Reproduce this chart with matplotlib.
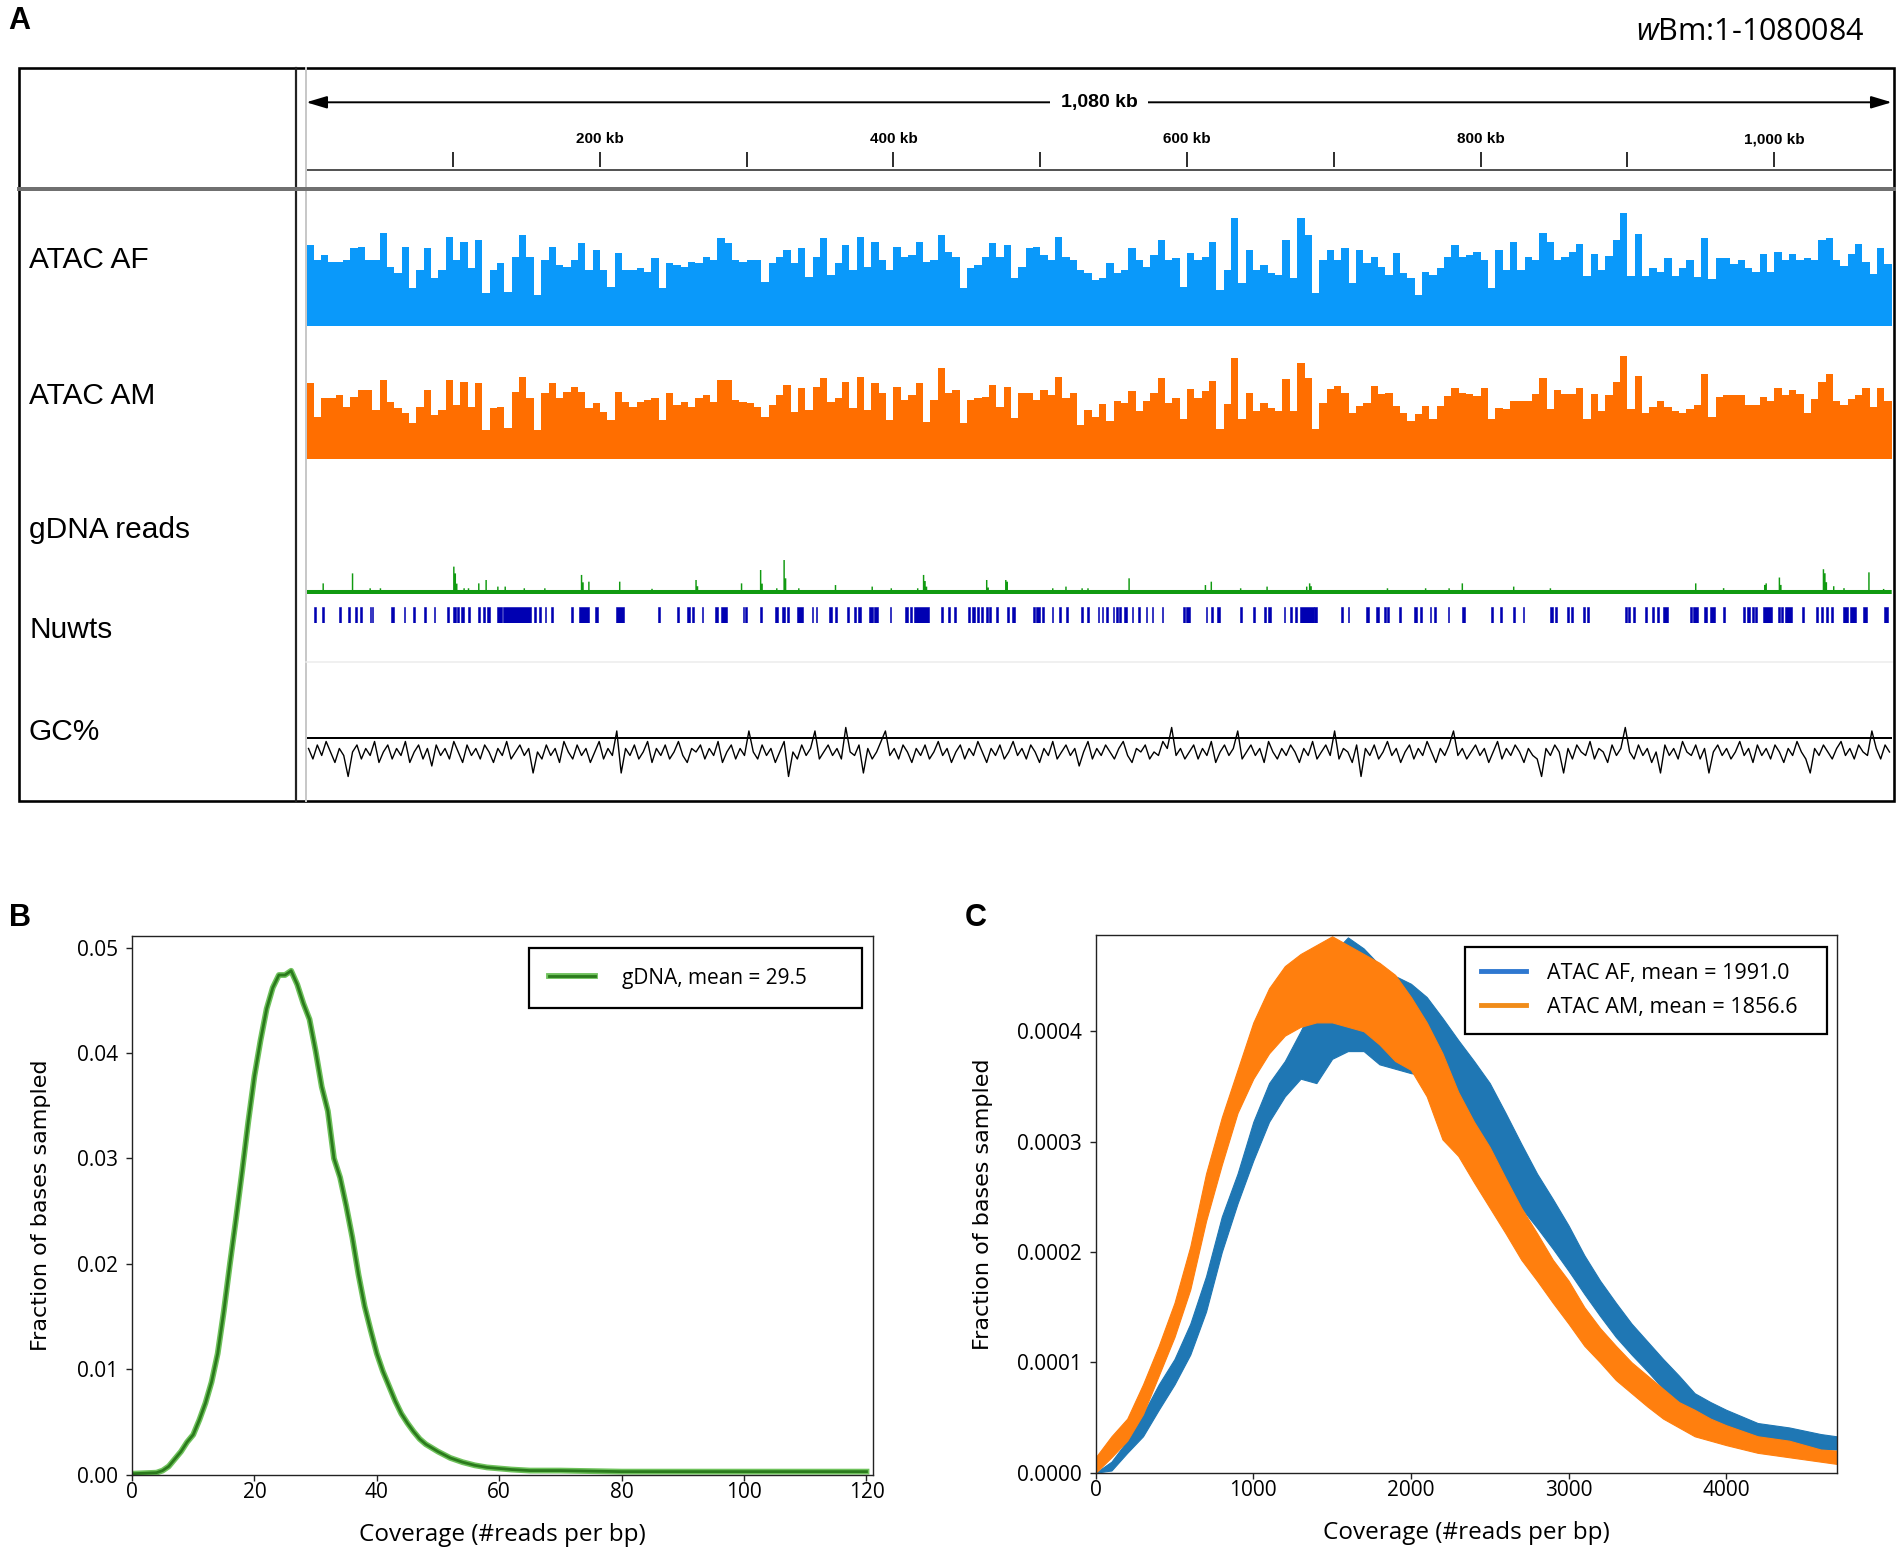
import numpy as np
import matplotlib
matplotlib.use("Agg")
import matplotlib.pyplot as plt
from matplotlib.patches import Rectangle, ArrowStyle
from matplotlib.lines import Line2D
from matplotlib.ticker import FormatStrFormatter
import matplotlib.patheffects as pe

plt.rcParams["font.family"] = ["Liberation Sans", "DejaVu Sans"]
plt.rcParams["mathtext.fontset"] = "custom"
plt.rcParams["mathtext.it"] = "Open Sans:italic"
plt.rcParams["mathtext.rm"] = "Open Sans"

# ------------------------------------------------------------------ data
region_label = r"$\mathit{w}$Bm:1-1080084"
genome_kb = 1080
bin_kb = 5
ruler_span_label = "1,080 kb"
ruler_major_kb = [200, 400, 600, 800, 1000]
ruler_major_labels = ["200 kb", "400 kb", "600 kb", "800 kb", "1,000 kb"]
ruler_tick_kb = [100, 200, 300, 400, 500, 600, 700, 800, 900, 1000]
track_names = ["ATAC AF", "ATAC AM", "gDNA reads", "Nuwts", "GC%"]

# ATAC coverage in 5-kb bins (0-1080 kb)
atac_af = [
    2420, 1970, 2120, 1920, 1920, 1970, 2320, 2370, 1970, 1970,
    2770, 1770, 1570, 2370, 1120, 1670, 2320, 1420, 1670, 2670,
    1970, 2520, 1720, 2570, 970, 1670, 1870, 1020, 2070, 2720,
    2070, 920, 1970, 2370, 1820, 1770, 1970, 2470, 1670, 2270,
    1670, 1170, 2170, 1670, 1670, 1720, 1620, 2020, 1120, 1870,
    1820, 1770, 1920, 1870, 2070, 1970, 2620, 2470, 1970, 1920,
    1970, 1970, 1320, 1870, 2070, 2270, 1870, 2320, 1470, 2070,
    2620, 1520, 1870, 2420, 1670, 2670, 1770, 2520, 1970, 1670,
    2370, 2070, 2120, 2520, 1920, 1970, 2720, 2220, 2070, 1120,
    1720, 1820, 2070, 2470, 2070, 2420, 1420, 1770, 2320, 2370,
    2120, 1970, 2670, 2070, 1970, 1670, 1570, 1370, 1420, 1870,
    1570, 1670, 2320, 1970, 1770, 2120, 2570, 1970, 2020, 1170,
    2170, 1970, 2070, 2520, 1070, 1670, 3220, 1270, 2270, 1670,
    1820, 1570, 1520, 2570, 1420, 3220, 2720, 970, 1970, 2270,
    1970, 2320, 1270, 2270, 1870, 2070, 1770, 1520, 2170, 1570,
    1420, 920, 1620, 1520, 1720, 2070, 2420, 2070, 2120, 2220,
    1970, 1120, 2270, 1670, 2520, 1670, 2070, 1970, 2770, 2520,
    1970, 2070, 2210, 2440, 1500, 2150, 1680, 2090, 2560, 3380,
    1500, 2740, 1500, 1740, 1620, 2030, 1500, 1740, 1970, 1450,
    2620, 1390, 2030, 2030, 1860, 1970, 1740, 1620, 2150, 1620,
    2210, 1970, 2150, 1970, 2030, 1970, 2560, 2620, 1970, 1800,
    2150, 2440, 1920, 1560, 2330, 1860,
]
atac_am = [
    2280, 1280, 1830, 1830, 1930, 1580, 1880, 2080, 2080, 1480,
    2380, 1730, 1530, 1380, 1080, 1580, 2080, 1330, 1480, 2380,
    1630, 2330, 1580, 2280, 880, 1530, 1580, 930, 2030, 2480,
    1830, 880, 1980, 2280, 1830, 2030, 2180, 2030, 1530, 1680,
    1430, 1180, 2030, 1730, 1580, 1730, 1780, 1830, 1180, 1980,
    1630, 1730, 1580, 1830, 1930, 1730, 2380, 2380, 1780, 1730,
    1680, 1580, 1280, 1630, 1930, 2230, 1430, 2130, 1480, 2180,
    2430, 1730, 1830, 2330, 1530, 2480, 1480, 2280, 1980, 1180,
    2180, 1780, 1930, 2280, 1130, 1780, 2730, 1980, 2080, 1080,
    1780, 1830, 1880, 2230, 1580, 2180, 1230, 1980, 1980, 1780,
    2080, 1930, 2480, 1830, 1980, 1030, 1480, 1280, 1650, 1150,
    1750, 1700, 2050, 1450, 1750, 2000, 2450, 1700, 1850, 1200,
    2100, 1850, 2050, 2350, 900, 1650, 3050, 1200, 2000, 1450,
    1700, 1550, 1450, 2400, 1450, 2900, 2450, 900, 1700, 2100,
    2200, 2000, 1400, 1600, 1700, 2200, 1950, 2000, 1600, 1400,
    1150, 1350, 1600, 1200, 1600, 1900, 2150, 2000, 1950, 1900,
    2150, 1200, 1550, 1500, 1740, 1740, 1740, 1970, 2440, 1500,
    2090, 1970, 1970, 2150, 1210, 1970, 1450, 1920, 2330, 3090,
    1500, 2500, 1390, 1560, 1740, 1560, 1450, 1390, 1500, 1620,
    2560, 1270, 1860, 1920, 1920, 1920, 1620, 1620, 1860, 1740,
    2150, 1920, 2090, 1970, 1390, 1800, 2330, 2560, 1740, 1620,
    1800, 1920, 2150, 1560, 2150, 1740,
]
atac_max = 4041

# gDNA read depth: flat background plus local spikes (kb, depth)
gdna_base = 31
gdna_peak_kb = [11, 31, 43, 50, 100, 101, 102, 107, 110, 117, 122, 130, 135, 148,
                162, 187, 188, 192, 213, 235, 265, 266, 296, 309, 310, 320, 325,
                326, 335, 360, 385, 398, 416, 420, 421, 422, 463, 464, 476, 477,
                508, 517, 528, 532, 560, 612, 616, 636, 654, 681, 683, 684, 736,
                762, 778, 787, 822, 847, 946, 965, 993, 994, 1003, 1004, 1033,
                1034, 1035, 1040, 1047, 1064, 1074]
gdna_peak_val = [82, 159, 44, 44, 211, 159, 80, 44, 44, 82, 108, 57, 57, 44,
                 44, 147, 90, 95, 95, 40, 108, 60, 82, 185, 80, 44, 262,
                 121, 44, 69, 57, 44, 44, 147, 100, 57, 108, 50, 108, 95,
                 44, 57, 44, 44, 121, 69, 95, 44, 57, 57, 82, 60, 44,
                 44, 44, 82, 57, 44, 82, 45, 70, 82, 127, 70, 191,
                 160, 91, 60, 45, 167, 39]
gdna_max = 1018

# Nuwts features (start kb, end kb)
nuwts = [
    (5.2, 6.4), (10.5, 11.9), (22.1, 23.3), (28.5, 29.7), (32.9, 34.3), (36.7, 37.8),
    (43.1, 44.2), (44.5, 45.7), (57.6, 59.9), (66.3, 67.5), (72.7, 73.9), (80.3, 81.4),
    (86.7, 87.9), (96.0, 97.2), (99.8, 101.8), (102.7, 104.1), (105.6, 107.6),
    (110.0, 111.4), (117.2, 118.4), (120.1, 121.6), (123.0, 125.1), (129.7, 133.2),
    (134.1, 153.0), (155.1, 156.2), (158.8, 160.0), (162.3, 163.2), (167.0, 167.8),
    (180.5, 181.8), (185.9, 192.9), (196.7, 198.9), (210.9, 216.1), (239.4, 240.9),
    (252.5, 253.7), (259.2, 261.2), (262.7, 264.1), (269.4, 270.5), (278.7, 280.7),
    (282.2, 286.5), (297.6, 298.5), (299.0, 299.9), (309.2, 310.4), (319.4, 321.2),
    (324.0, 326.0), (327.3, 328.7), (334.5, 338.3), (344.3, 345.2), (347.3, 348.2),
    (356.3, 358.3), (360.1, 361.6), (368.0, 369.4), (373.2, 374.7), (376.1, 377.6),
    (383.4, 386.3), (386.9, 389.2), (397.4, 398.5),
    (408.1, 409.8), (411.0, 412.7), (413.9, 424.4), (432.2, 433.7), (437.2, 438.3),
    (441.0, 442.4), (450.6, 452.0), (453.5, 455.2), (457.0, 458.4), (459.3, 461.3),
    (462.8, 464.2), (465.1, 466.3), (470.1, 471.5), (477.3, 478.8), (480.8, 482.6),
    (494.8, 496.2), (497.1, 500.0), (501.2, 502.6), (507.9, 508.7), (512.8, 514.0),
    (517.5, 518.6), (527.4, 529.1), (532.0, 533.5), (539.0, 540.2), (541.9, 542.8),
    (545.1, 546.3), (549.2, 550.1), (551.5, 553.0), (553.5, 555.3), (557.3, 558.8),
    (562.3, 563.4), (566.9, 568.1), (571.9, 572.7), (576.2, 577.1), (582.6, 583.5),
    (597.2, 598.6), (599.5, 601.8), (612.6, 613.5), (616.4, 617.8), (620.4, 622.2),
    (635.9, 637.3), (645.2, 646.6), (652.4, 653.9), (655.4, 657.1), (665.8, 667.0),
    (669.9, 671.4), (673.7, 675.2), (676.6, 686.2), (686.8, 688.2), (704.8, 706.3),
    (709.5, 710.6), (721.7, 723.7), (729.0, 730.4), (733.9, 735.4), (736.2, 737.4),
    (744.4, 745.5), (754.6, 756.3), (758.9, 760.1), (765.3, 766.2), (768.2, 769.4),
    (777.5, 778.4),
    (787.6, 789.0), (806.7, 808.1), (813.1, 814.4), (822.2, 823.3), (828.5, 829.7),
    (847.2, 849.0), (850.6, 852.2), (858.5, 860.3), (861.2, 862.6), (869.9, 871.0),
    (872.2, 873.5), (898.3, 899.4), (900.6, 901.7), (903.5, 905.1), (911.9, 913.0),
    (916.5, 918.0), (919.9, 921.7), (924.4, 927.8), (942.6, 943.7), (944.9, 948.3),
    (952.1, 953.9), (956.2, 959.6), (964.8, 966.4), (978.5, 979.8), (981.7, 983.5),
    (985.1, 986.2), (986.9, 988.5), (992.6, 998.2), (1002.8, 1003.9), (1004.6, 1006.2),
    (1007.3, 1011.9), (1018.7, 1020.3), (1028.5, 1029.6), (1031.6, 1033.5),
    (1035.3, 1036.9), (1038.5, 1040.3), (1046.6, 1050.5), (1051.6, 1055.7),
    (1060.7, 1063.0), (1074.8, 1077.8),
]

# GC% in 3-kb windows, with the reference line
gc_bin_kb = 3
gc_pct = [
    31, 28, 32, 29, 33, 30, 27, 31, 29, 23,
    30, 32, 28, 31, 29, 33, 27, 30, 32, 28,
    31, 29, 33, 27, 30, 32, 28, 31, 26, 32,
    29, 31, 28, 33, 30, 27, 32, 29, 31, 28,
    32, 30, 27, 31, 29, 33, 28, 30, 32, 29,
    31, 24, 30, 28, 32, 29, 31, 27, 33, 30,
    28, 32, 29, 31, 27, 30, 33, 28, 31, 29,
    36, 24, 31, 29, 32, 28, 30, 33, 27, 31,
    29, 32, 28, 30, 33, 29, 27, 31, 30, 32,
    28, 31, 29, 33, 27, 30, 32, 28, 31, 29,
    36, 30, 28, 32, 29, 31, 27, 30, 33, 23,
    30, 28, 32, 29, 31, 36, 28, 30, 32, 29,
    31, 28, 37, 30, 29, 32, 24, 31, 28, 30,
    33, 36, 29, 31, 28, 32, 30, 27, 31, 29,
    32, 28, 30, 33, 29, 31, 27, 30, 32, 28,
    31, 29, 33, 30, 27, 31, 29, 32, 28, 30,
    33, 29, 31, 28, 32, 30, 27, 31, 29, 33,
    28, 30, 32, 29, 31, 26, 30, 33, 28, 31,
    29, 32, 30, 28, 31, 33, 29, 27, 31, 30,
    32, 28, 30, 29, 33, 31, 37, 29, 31, 28,
    30, 32, 28, 31, 29, 33, 27, 30, 32, 29,
    31, 36, 28, 30, 32, 29, 31, 27, 33, 30,
    28, 31, 29, 32, 30, 27, 31, 29, 33, 28,
    30, 32, 29, 36, 28, 31, 30, 27, 32, 23,
    31, 29, 32, 28, 30, 33, 29, 31, 27, 30,
    32, 28, 31, 29, 33, 30, 27, 31, 29, 32,
    36, 29, 31, 28, 30, 32, 29, 31, 27, 30,
    33, 28, 31, 29, 32, 30, 27, 31, 29, 28,
    23, 31, 29, 32, 30, 24, 31, 28, 32, 30,
    29, 33, 28, 31, 30, 27, 32, 29, 31, 37,
    30, 28, 32, 29, 31, 27, 30, 24, 32, 29,
    31, 28, 33, 30, 29, 32, 28, 31, 24, 30,
    32, 29, 31, 28, 30, 33, 29, 31, 27, 32,
    29, 31, 28, 32, 30, 27, 31, 29, 33, 30,
    28, 24, 31, 29, 32, 30, 28, 31, 33, 29,
    31, 28, 32, 30, 29, 36, 31, 28, 32, 30,
]
gc_ref = 34
gc_lim = (16, 55.7)

# Panel B: gDNA coverage distribution
b_cov = [0, 4, 5, 6, 7, 8, 9, 10, 11, 12, 13, 14, 15, 16, 17, 18, 19, 20, 21, 22,
         23, 24, 25, 26, 27, 28, 29, 30, 31, 32, 33, 34, 35, 36, 37, 38, 39, 40,
         41, 42, 43, 44, 45, 46, 47, 48, 50, 52, 54, 56, 58, 60, 62, 65, 70, 80,
         90, 100, 110, 120]
b_frac = [0.0001, 0.0002, 0.0004, 0.0008, 0.0015, 0.0022, 0.0031, 0.0038, 0.0052,
          0.0068, 0.0088, 0.0115, 0.0155, 0.0200, 0.0243, 0.0288, 0.0335, 0.0378,
          0.0412, 0.0442, 0.0462, 0.0474, 0.0474, 0.0478, 0.0465, 0.0447, 0.0432,
          0.0402, 0.0368, 0.0345, 0.0300, 0.0282, 0.0255, 0.0225, 0.0190, 0.0160,
          0.0137, 0.0115, 0.0098, 0.0084, 0.0070, 0.0058, 0.0049, 0.0041, 0.0034,
          0.0029, 0.0022, 0.0016, 0.0012, 0.0009, 0.0007, 0.0006, 0.0005, 0.0004,
          0.0004, 0.0003, 0.0003, 0.0003, 0.0003, 0.0003]
b_label = "gDNA, mean = 29.5"

# Panel C: ATAC coverage distributions (noisy band: lower/upper, units of 1e-4)
c_cov = [0, 100, 200, 300, 400, 500, 600, 700, 800, 900, 1000, 1100, 1200, 1300,
         1400, 1500, 1600, 1700, 1800, 1900, 2000, 2100, 2200, 2300, 2400, 2500,
         2600, 2700, 2800, 2900, 3000, 3100, 3200, 3300, 3400, 3500, 3600, 3700,
         3800, 3900, 4000, 4200, 4400, 4600, 4700]
af_lo = [0.00, 0.02, 0.18, 0.33, 0.57, 0.80, 1.07, 1.46, 2.00, 2.44, 2.83, 3.18,
         3.41, 3.57, 3.53, 3.75, 3.82, 3.82, 3.70, 3.66, 3.62, 3.60, 3.45, 3.30,
         3.12, 2.87, 2.63, 2.40, 2.22, 2.03, 1.83, 1.62, 1.42, 1.23, 1.07, 0.92,
         0.76, 0.64, 0.53, 0.45, 0.39, 0.29, 0.25, 0.21, 0.21]
af_hi = [0.00, 0.10, 0.29, 0.53, 0.80, 1.03, 1.35, 1.78, 2.32, 2.71, 3.18, 3.53,
         3.73, 4.00, 4.30, 4.70, 4.85, 4.75, 4.60, 4.50, 4.43, 4.31, 4.12, 3.92,
         3.73, 3.53, 3.26, 2.98, 2.71, 2.48, 2.24, 1.97, 1.74, 1.54, 1.35, 1.19,
         1.03, 0.88, 0.72, 0.64, 0.57, 0.45, 0.41, 0.35, 0.33]
am_lo = [0.00, 0.14, 0.29, 0.53, 0.88, 1.23, 1.66, 2.28, 2.79, 3.26, 3.57, 3.80,
         3.96, 4.04, 4.08, 4.08, 4.04, 4.00, 3.88, 3.73, 3.65, 3.41, 3.02, 2.87,
         2.63, 2.40, 2.17, 1.93, 1.74, 1.54, 1.35, 1.15, 1.00, 0.84, 0.72, 0.60,
         0.49, 0.41, 0.33, 0.29, 0.25, 0.18, 0.14, 0.10, 0.08]
am_hi = [0.14, 0.33, 0.49, 0.80, 1.15, 1.54, 2.05, 2.71, 3.22, 3.65, 4.08, 4.39,
         4.59, 4.70, 4.78, 4.86, 4.78, 4.70, 4.62, 4.51, 4.31, 4.08, 3.80, 3.45,
         3.18, 2.95, 2.67, 2.40, 2.17, 1.93, 1.74, 1.50, 1.31, 1.15, 1.00, 0.88,
         0.76, 0.64, 0.57, 0.49, 0.43, 0.33, 0.29, 0.21, 0.20]
c_labels = ["ATAC AF, mean = 1991.0", "ATAC AM, mean = 1856.6"]

# ------------------------------------------------------------------ figure
W, H = 1902, 1556
fig = plt.figure(figsize=(W / 100, H / 100), dpi=100)


def fax(x0, y0, x1, y1, **kw):
    return fig.add_axes([x0 / W, 1 - y1 / H, (x1 - x0) / W, (y1 - y0) / H], **kw)


def px(p):  # pixels -> points
    return p * 72 / 100


TX0, TX1 = 306.3, 1891.7
edges = np.arange(0, genome_kb + 1, bin_kb)

# ---- ruler
ax_r = fax(TX0, 68, TX1, 191)
ax_r.set_xlim(0, genome_kb)
ax_r.set_ylim(191, 68)
ax_r.set_axis_off()
ax_r.annotate("", xy=(genome_kb, 102.3), xytext=(0, 102.3), annotation_clip=False,
              arrowprops=dict(arrowstyle=ArrowStyle("<|-|>", head_length=0.5, head_width=0.15),
                              mutation_scale=25, lw=1.4, color="black",
                              shrinkA=0, shrinkB=0))
ax_r.text(genome_kb / 2, 102.3, ruler_span_label, ha="center", va="center",
          fontsize=14, fontweight="bold",
          bbox=dict(boxstyle="square,pad=0.55", fc="white", ec="none"))
for kb, lab in zip(ruler_major_kb, ruler_major_labels):
    ax_r.text(kb, 139, lab, ha="center", va="center", fontsize=11, fontweight="bold")
ax_r.vlines(ruler_tick_kb, 151.7, 166.7, color="black", lw=px(1.6))
ax_r.hlines(170, 0, genome_kb, color="#555555", lw=px(2.0))

# ---- ATAC tracks
ax_af = fax(TX0, 191, TX1, 325.7)
ax_af.stairs(atac_af, edges, fill=True, color="#0a99fa", lw=0)
ax_af.set_xlim(0, genome_kb)
ax_af.set_ylim(0, atac_max)
ax_af.set_axis_off()

ax_am = fax(TX0, 324.6, TX1, 459.3)
ax_am.stairs(atac_am, edges, fill=True, color="#ff6e00", lw=0)
ax_am.set_xlim(0, genome_kb)
ax_am.set_ylim(0, atac_max)
ax_am.set_axis_off()

# ---- gDNA
gdna = np.full(genome_kb, float(gdna_base))
for kb, v in zip(gdna_peak_kb, gdna_peak_val):
    gdna[kb] = v
ax_g = fax(TX0, 462, TX1, 594)
ax_g.stairs(gdna, np.arange(0, genome_kb + 1), fill=True, color="#119a11", lw=0)
ax_g.set_xlim(0, genome_kb)
ax_g.set_ylim(0, gdna_max)
ax_g.set_axis_off()

# ---- Nuwts
ax_n = fax(TX0, 606.7, TX1, 623.3)
ax_n.broken_barh([(s, e - s) for s, e in nuwts], (0, 1), facecolor="#0000b2",
                 edgecolor="#0000b2", lw=0.4)
ax_n.set_xlim(0, genome_kb)
ax_n.set_ylim(0, 1)
ax_n.set_axis_off()

# ---- GC%
ax_gc = fax(TX0, 662, TX1, 801)
gc_x = np.arange(len(gc_pct)) * gc_bin_kb + gc_bin_kb / 2
ax_gc.plot(gc_x, gc_pct, color="black", lw=1.0)
ax_gc.axhline(gc_ref, color="black", lw=px(2.0))
ax_gc.set_xlim(0, genome_kb)
ax_gc.set_ylim(*gc_lim)
ax_gc.set_axis_off()

# ---- overlay frame and labels (pixel coordinates)
ov = fig.add_axes([0, 0, 1, 1], zorder=5)
ov.set_xlim(0, W)
ov.set_ylim(H, 0)
ov.set_axis_off()
ov.add_patch(Rectangle((19.3, 67.8), 1894.3 - 19.3, 800.8 - 67.8, fill=False,
                       ec="black", lw=px(2.6)))
ov.plot([296, 296], [67.8, 800.8], color="#222222", lw=px(2.2))
ov.plot([TX0, TX0], [67.8, 800.8], color="#c8c8c8", lw=px(2.0))
ov.plot([19.3, 1894.3], [189.3, 189.3], color="#707070", lw=px(4.0))
ov.plot([TX0, TX1], [662.4, 662.4], color="#ececec", lw=px(1.5))
ov.text(8, 21, "A", fontsize=22, fontweight="bold", ha="left", va="center")
ov.text(1865, 31.7, region_label, fontsize=22, family="Open Sans", ha="right", va="center")
label_base_y = [268.3, 404, 538.3, 638.3, 740]
for name, yb in zip(track_names, label_base_y):
    ov.text(29, yb, name, fontsize=21.5, ha="left", va="baseline")
ov.text(8.6, 918, "B", fontsize=22, fontweight="bold", ha="left", va="center")
ov.text(965, 918, "C", fontsize=22, fontweight="bold", ha="left", va="center")


# ---- Panel B
def style_axes(ax):
    for s in ax.spines.values():
        s.set_color("#222222")
        s.set_linewidth(1.0)
    ax.tick_params(labelsize=15, labelfontfamily="Open Sans", length=4, width=1.0,
                   color="#222222")
    ax.tick_params(axis="x", pad=1.5)
    ax.tick_params(axis="y", pad=6)


ax_b = fax(132, 936, 872.6, 1474.8)
ax_b.plot(b_cov, b_frac, color="#2a7a1c", lw=2.0, label=b_label,
          path_effects=[pe.Stroke(linewidth=4.2, foreground="#6fc25c"), pe.Normal()])
ax_b.set_xlim(0, 121)
ax_b.set_ylim(0, 0.0511)
ax_b.set_xticks([0, 20, 40, 60, 80, 100, 120])
ax_b.set_yticks([0, 0.01, 0.02, 0.03, 0.04, 0.05])
ax_b.yaxis.set_major_formatter(FormatStrFormatter("%.2f"))
style_axes(ax_b)
ax_b.set_xlabel("Coverage (#reads per bp)", family="Open Sans", fontsize=17.5, va="center")
ax_b.xaxis.set_label_coords(0.5, -0.1117)
ax_b.set_ylabel("Fraction of bases sampled", family="DejaVu Sans", fontsize=16, va="center")
ax_b.yaxis.set_label_coords(-0.1229, 0.5)
leg_b = ax_b.legend(loc="upper left", bbox_to_anchor=(0.5361, 0.978, 0.4496, 0.0),
                    mode="expand", borderaxespad=0, prop={"family": "Open Sans", "size": 15},
                    fancybox=False, framealpha=1, edgecolor="black", borderpad=0.95,
                    handlelength=2.2, handletextpad=1.3)
leg_b.get_frame().set_linewidth(1.6)

# ---- Panel C
ax_c = fax(1095.7, 935.2, 1836.5, 1472.7)
sc = 1e-4
ax_c.fill_between(c_cov, np.array(af_lo) * sc, np.array(af_hi) * sc, color="#1f77b4",
                  lw=0.8, ec="#1f77b4")
ax_c.fill_between(c_cov, np.array(am_lo) * sc, np.array(am_hi) * sc, color="#ff7f0e",
                  lw=0.8, ec="#ff7f0e")
ax_c.set_xlim(0, 4700)
ax_c.set_ylim(0, 0.000487)
ax_c.set_xticks([0, 1000, 2000, 3000, 4000])
ax_c.set_yticks([0, 0.0001, 0.0002, 0.0003, 0.0004])
ax_c.yaxis.set_major_formatter(FormatStrFormatter("%.4f"))
style_axes(ax_c)
ax_c.set_xlabel("Coverage (#reads per bp)", family="Open Sans", fontsize=17.5, va="center")
ax_c.xaxis.set_label_coords(0.5, -0.1122)
ax_c.set_ylabel("Fraction of bases sampled", family="DejaVu Sans", fontsize=16, va="center")
ax_c.yaxis.set_label_coords(-0.1521, 0.5)
handles = [Line2D([], [], color="#2f78d0", lw=3.5), Line2D([], [], color="#f08c1a", lw=3.5)]
leg_c = ax_c.legend(handles, c_labels, loc="upper left",
                    bbox_to_anchor=(0.4984, 0.9784, 0.4893, 0.0), mode="expand",
                    borderaxespad=0, prop={"family": "Open Sans", "size": 15.5},
                    fancybox=False, framealpha=1, edgecolor="black", borderpad=0.75,
                    handlelength=2.1, handletextpad=0.95, labelspacing=0.6)
leg_c.get_frame().set_linewidth(1.6)

fig.savefig("out.png", dpi=100, facecolor="white")
